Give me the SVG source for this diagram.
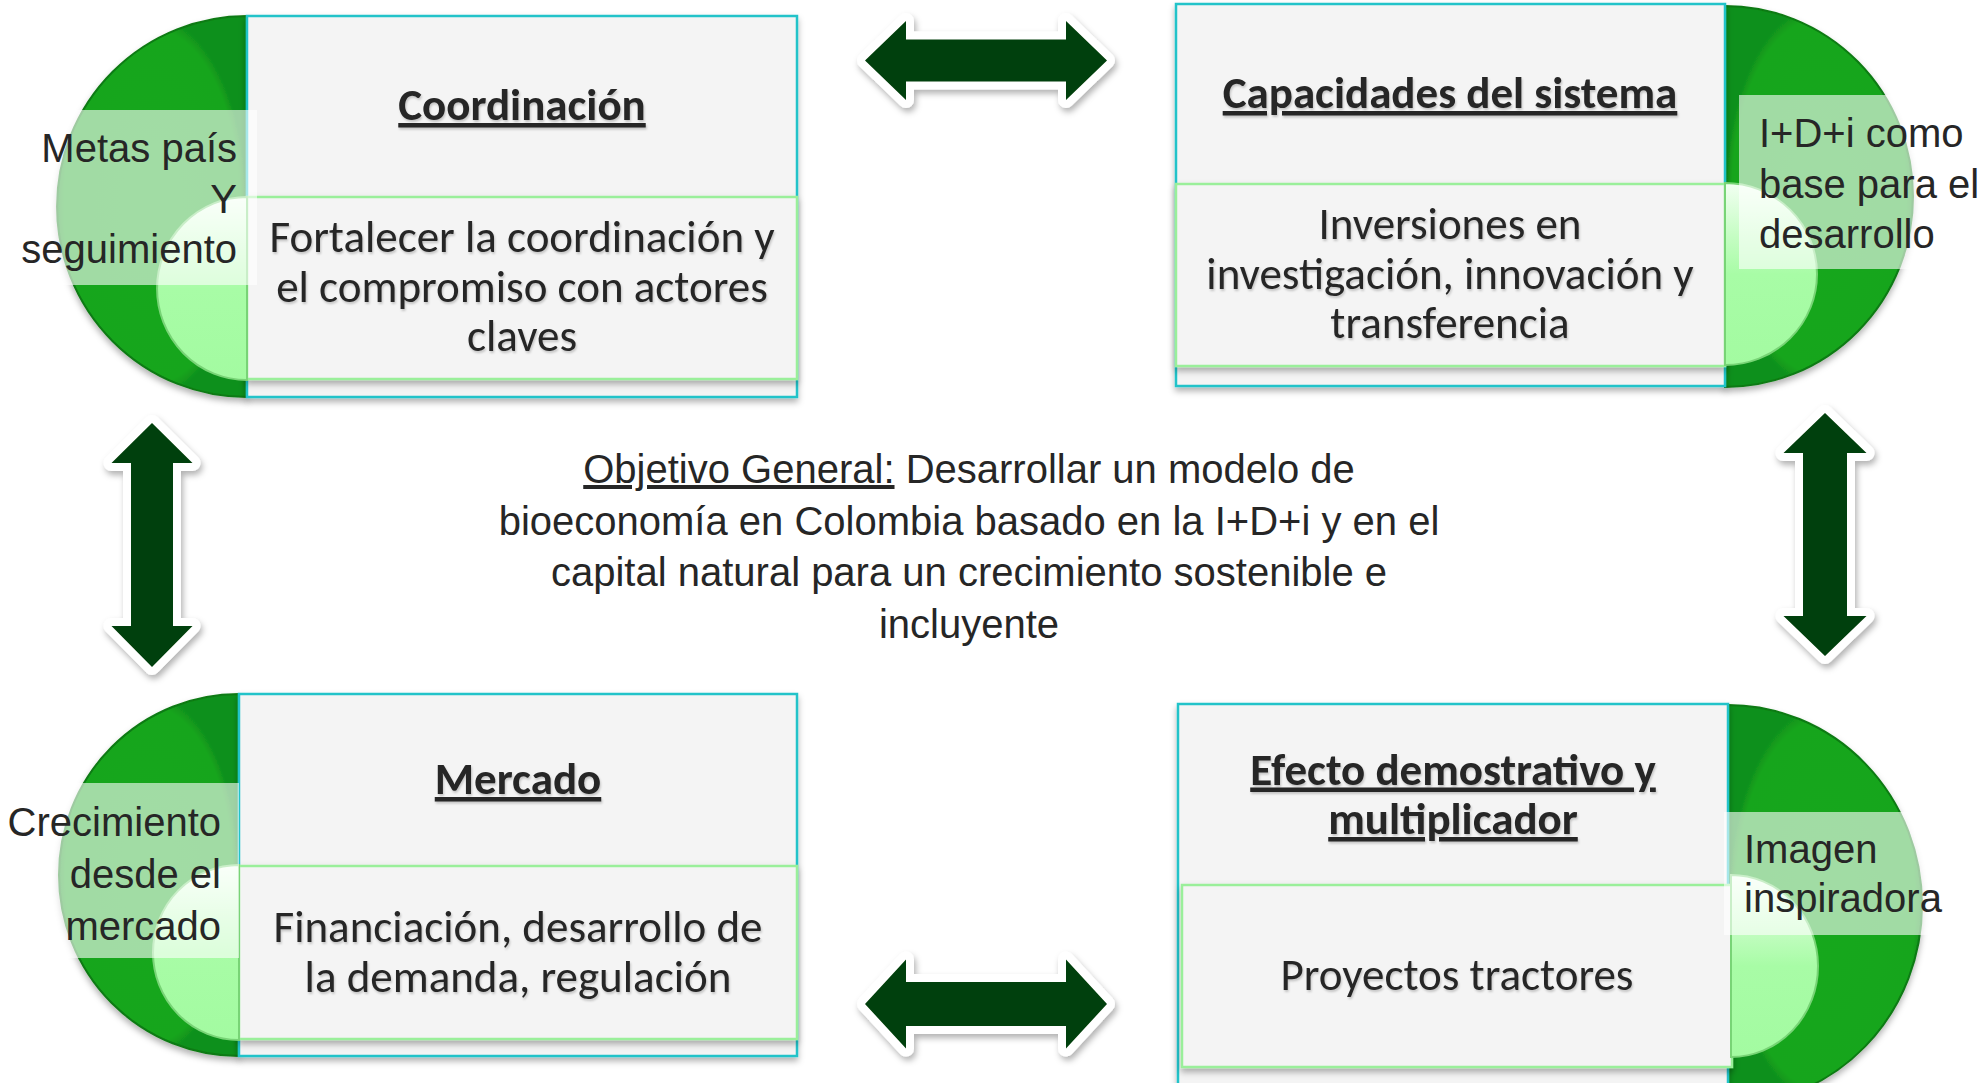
<svg xmlns="http://www.w3.org/2000/svg" width="1987" height="1083" viewBox="0 0 1987 1083">
  <defs>
    <style>
      .green { fill: url(#gGreen); stroke: #0d7a12; stroke-width: 2; }
      .inner { fill: url(#gInner); stroke: #78d476; stroke-width: 2; }
      .outer { fill: #f4f4f4; stroke: #20c3c9; stroke-width: 2.5; }
      .lower { fill: #f4f4f4; stroke: #9aef9a; stroke-width: 2.5; }
      .veil { fill: #ffffff; fill-opacity: 0.6; }
      .box-title { font-family: Carlito, Lato, "Open Sans", sans-serif; font-weight: bold; font-size: 45px; fill: #262626; text-anchor: middle; text-decoration: underline; }
      .box-text { font-family: Carlito, Lato, "Open Sans", sans-serif; font-size: 45px; fill: #262626; text-anchor: middle; }
      .label { font-family: "Liberation Sans", Arial, sans-serif; font-size: 40px; fill: #262626; }
      .center { font-family: "Liberation Sans", Arial, sans-serif; font-size: 40px; fill: #262626; text-anchor: middle; }
      .arrow { fill: #033f0a; stroke: #ffffff; stroke-width: 16; stroke-linejoin: round; paint-order: stroke; }
    </style>
    <radialGradient id="gGreen" cx="0.5" cy="0.5" r="0.5">
      <stop offset="0" stop-color="#17a81d"/>
      <stop offset="0.93" stop-color="#15a51b"/>
      <stop offset="1" stop-color="#10901a"/>
    </radialGradient>
    <linearGradient id="gInner" x1="0" y1="0" x2="0" y2="1">
      <stop offset="0" stop-color="#f2fff2"/>
      <stop offset="0.3" stop-color="#c4fdc2"/>
      <stop offset="0.5" stop-color="#a8fca6"/>
      <stop offset="1" stop-color="#a3fba1"/>
    </linearGradient>
    <filter id="shadow" x="-10%" y="-10%" width="120%" height="130%">
      <feDropShadow dx="0" dy="4" stdDeviation="3" flood-color="#000" flood-opacity="0.3"/>
    </filter>
    <filter id="ashadow" x="-10%" y="-10%" width="120%" height="130%">
      <feDropShadow dx="2" dy="4" stdDeviation="3" flood-color="#000" flood-opacity="0.3"/>
    </filter>
    <filter id="tshadow" x="-5%" y="-20%" width="110%" height="140%">
      <feDropShadow dx="1" dy="2" stdDeviation="1" flood-color="#000" flood-opacity="0.2"/>
    </filter>
  </defs>

  <rect x="0" y="0" width="1987" height="1083" fill="#ffffff"/>

  <!-- Top-left node: Coordinación -->
  <g id="node-coordinacion">
    <path class="green" d="M247 16 A190 190.5 0 0 0 247 397 Z" filter="url(#shadow)"/>
    <rect class="outer" x="247" y="16" width="550" height="381" filter="url(#shadow)"/>
    <rect class="lower" x="247" y="197" width="550" height="182" filter="url(#shadow)"/>
    <path class="inner" d="M247 197 A90 91.5 0 0 0 247 380 Z"/>
    <rect class="veil" x="16" y="110" width="241" height="175"/>
    <text class="box-title" x="522" y="120" filter="url(#tshadow)">Coordinación</text>
    <text class="box-text" filter="url(#tshadow)"><tspan x="522" y="252">Fortalecer la coordinación y</tspan><tspan x="522" y="301.5">el compromiso con actores</tspan><tspan x="522" y="351">claves</tspan></text>
    <text class="label" text-anchor="end"><tspan x="237" y="162">Metas país</tspan><tspan x="237" y="212.5">Y</tspan><tspan x="237" y="263">seguimiento</tspan></text>
  </g>

  <!-- Top-right node: Capacidades del sistema -->
  <g id="node-capacidades">
    <path class="green" d="M1725 6 A188 190.5 0 0 1 1725 387 Z" filter="url(#shadow)"/>
    <rect class="outer" x="1176" y="4" width="549" height="382" filter="url(#shadow)"/>
    <rect class="lower" x="1176" y="184" width="549" height="182" filter="url(#shadow)"/>
    <path class="inner" d="M1725 183 A92 91 0 0 1 1725 365 Z"/>
    <rect class="veil" x="1739" y="95" width="248" height="174"/>
    <text class="box-title" x="1450" y="108" filter="url(#tshadow)">Capacidades del sistema</text>
    <text class="box-text" filter="url(#tshadow)"><tspan x="1450" y="239">Inversiones en</tspan><tspan x="1450" y="288.5">investigación, innovación y</tspan><tspan x="1450" y="338">transferencia</tspan></text>
    <text class="label" text-anchor="start"><tspan x="1759" y="147">I+D+i como</tspan><tspan x="1759" y="197.5">base para el</tspan><tspan x="1759" y="248">desarrollo</tspan></text>
  </g>

  <!-- Bottom-left node: Mercado -->
  <g id="node-mercado">
    <path class="green" d="M239 694 A180 181 0 0 0 239 1056 Z" filter="url(#shadow)"/>
    <rect class="outer" x="239" y="694" width="558" height="362" filter="url(#shadow)"/>
    <rect class="lower" x="239" y="866" width="558" height="173" filter="url(#shadow)"/>
    <path class="inner" d="M239 865 A86 87.5 0 0 0 239 1040 Z"/>
    <rect class="veil" x="0" y="783" width="239" height="175"/>
    <text class="box-title" x="518" y="794" filter="url(#tshadow)">Mercado</text>
    <text class="box-text" filter="url(#tshadow)"><tspan x="518" y="942">Financiación, desarrollo de</tspan><tspan x="518" y="991.5">la demanda, regulación</tspan></text>
    <text class="label" text-anchor="end"><tspan x="221" y="836">Crecimiento</tspan><tspan x="221" y="888">desde el</tspan><tspan x="221" y="940">mercado</tspan></text>
  </g>

  <!-- Bottom-right node: Efecto demostrativo y multiplicador -->
  <g id="node-efecto">
    <path class="green" d="M1728 705 A194 200 0 0 1 1728 1105 Z" filter="url(#shadow)"/>
    <rect class="outer" x="1178" y="704" width="550" height="390" filter="url(#shadow)"/>
    <rect class="lower" x="1182" y="885" width="550" height="182" filter="url(#shadow)"/>
    <path class="inner" d="M1731 875 A87 91 0 0 1 1731 1057 Z"/>
    <rect class="veil" x="1724" y="812" width="263" height="123"/>
    <text class="box-title" filter="url(#tshadow)"><tspan x="1453" y="784.5">Efecto demostrativo y</tspan><tspan x="1453" y="834">multiplicador</tspan></text>
    <text class="box-text" x="1457" y="989.5" filter="url(#tshadow)">Proyectos tractores</text>
    <text class="label" text-anchor="start"><tspan x="1744" y="863">Imagen</tspan><tspan x="1744" y="912">inspiradora</tspan></text>
  </g>

  <!-- Central objective -->
  <g id="node-objetivo">
    <text class="center"><tspan x="969" y="483"><tspan text-decoration="underline">Objetivo General:</tspan> Desarrollar un modelo de</tspan><tspan x="969" y="534.5">bioeconomía en Colombia basado en la I+D+i y en el</tspan><tspan x="969" y="586">capital natural para un crecimiento sostenible e</tspan><tspan x="969" y="637.5">incluyente</tspan></text>
  </g>

  <!-- Connectors: double-headed block arrows -->
  <g id="connectors" filter="url(#ashadow)">
    <path class="arrow" d="M865 60.5 L906 21 L906 39.5 L1066 39.5 L1066 21 L1107 60.5 L1066 100 L1066 81.5 L906 81.5 L906 100 Z"/>
    <path class="arrow" d="M865 1004 L906 959.5 L906 982 L1066 982 L1066 959.5 L1107 1004 L1066 1048.5 L1066 1026 L906 1026 L906 1048.5 Z"/>
    <path class="arrow" d="M152 423 L192.5 463 L173 463 L173 626 L192.5 626 L152 667 L111.5 626 L131 626 L131 463 L111.5 463 Z"/>
    <path class="arrow" d="M1825 413 L1866.5 453 L1847 453 L1847 616 L1866.5 616 L1825 656 L1783.5 616 L1803 616 L1803 453 L1783.5 453 Z"/>
  </g>
</svg>
